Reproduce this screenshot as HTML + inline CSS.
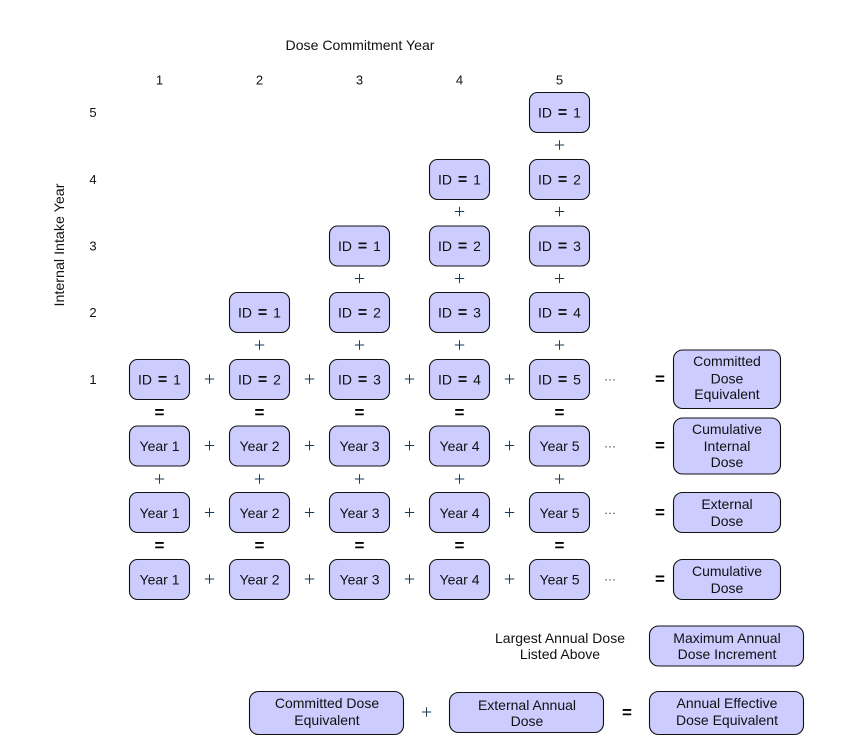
<!DOCTYPE html>
<html><head><meta charset="utf-8"><style>
html,body{margin:0;padding:0;background:#fff}
svg{display:block}
text{font-family:"Liberation Sans",sans-serif;font-size:14px;text-anchor:middle;fill:#111}
.b rect{fill:#ccccff;stroke:#111;stroke-width:1.1}
.s{font-size:13px}
.p{font-family:"Liberation Serif",serif;font-size:20px;fill:#1a3a55;transform:translateY(1px)}
.e{font-size:17px;font-weight:bold;fill:#000}
.d{font-size:12px;fill:#0f3f5f}
.i{word-spacing:2px}
.i tspan{font-weight:bold;font-size:16px}
</style></head><body>
<svg width="851" height="741" viewBox="0 0 851 741" xmlns="http://www.w3.org/2000/svg">
<g class="b">
<rect x="529.5" y="92.5" width="60" height="40" rx="8"/>
<rect x="429.5" y="159.5" width="60" height="40" rx="8"/><rect x="529.5" y="159.5" width="60" height="40" rx="8"/>
<rect x="329.5" y="226" width="60" height="40" rx="8"/><rect x="429.5" y="226" width="60" height="40" rx="8"/><rect x="529.5" y="226" width="60" height="40" rx="8"/>
<rect x="229.5" y="292.5" width="60" height="40" rx="8"/><rect x="329.5" y="292.5" width="60" height="40" rx="8"/><rect x="429.5" y="292.5" width="60" height="40" rx="8"/><rect x="529.5" y="292.5" width="60" height="40" rx="8"/>
<rect x="129.5" y="359.5" width="60" height="40" rx="8"/><rect x="229.5" y="359.5" width="60" height="40" rx="8"/><rect x="329.5" y="359.5" width="60" height="40" rx="8"/><rect x="429.5" y="359.5" width="60" height="40" rx="8"/><rect x="529.5" y="359.5" width="60" height="40" rx="8"/>
<rect x="129.5" y="426" width="60" height="40" rx="8"/><rect x="229.5" y="426" width="60" height="40" rx="8"/><rect x="329.5" y="426" width="60" height="40" rx="8"/><rect x="429.5" y="426" width="60" height="40" rx="8"/><rect x="529.5" y="426" width="60" height="40" rx="8"/>
<rect x="129.5" y="492.5" width="60" height="40" rx="8"/><rect x="229.5" y="492.5" width="60" height="40" rx="8"/><rect x="329.5" y="492.5" width="60" height="40" rx="8"/><rect x="429.5" y="492.5" width="60" height="40" rx="8"/><rect x="529.5" y="492.5" width="60" height="40" rx="8"/>
<rect x="129.5" y="559.5" width="60" height="40" rx="8"/><rect x="229.5" y="559.5" width="60" height="40" rx="8"/><rect x="329.5" y="559.5" width="60" height="40" rx="8"/><rect x="429.5" y="559.5" width="60" height="40" rx="8"/><rect x="529.5" y="559.5" width="60" height="40" rx="8"/>
<rect x="673.5" y="350" width="107" height="58.5" rx="9"/>
<rect x="673.5" y="418" width="107" height="56" rx="9"/>
<rect x="673.5" y="492.5" width="107" height="40" rx="9"/>
<rect x="673.5" y="559.5" width="107" height="40" rx="9"/>
<rect x="649.5" y="626" width="154" height="40" rx="9"/>
<rect x="249.5" y="691.5" width="154" height="43" rx="9"/>
<rect x="449.5" y="692.5" width="154" height="40" rx="9"/>
<rect x="649.5" y="691.5" width="154" height="43" rx="9"/>
</g>

<text x="360" y="50" textLength="149" lengthAdjust="spacingAndGlyphs">Dose Commitment Year</text>
<text x="159.5" y="84.5" class="s">1</text><text x="259.5" y="84.5" class="s">2</text><text x="359.5" y="84.5" class="s">3</text><text x="459.5" y="84.5" class="s">4</text><text x="559.5" y="84.5" class="s">5</text>
<text x="93" y="117" class="s">5</text><text x="93" y="184" class="s">4</text><text x="93" y="250.5" class="s">3</text><text x="93" y="317" class="s">2</text><text x="93" y="384" class="s">1</text>
<text transform="translate(64,245) rotate(-90)" textLength="123" lengthAdjust="spacingAndGlyphs">Internal Intake Year</text>

<text class="i" x="559.5" y="117.5">ID <tspan>=</tspan> 1</text>
<text class="i" x="459.5" y="184.5">ID <tspan>=</tspan> 1</text><text class="i" x="559.5" y="184.5">ID <tspan>=</tspan> 2</text>
<text class="i" x="359.5" y="251">ID <tspan>=</tspan> 1</text><text class="i" x="459.5" y="251">ID <tspan>=</tspan> 2</text><text class="i" x="559.5" y="251">ID <tspan>=</tspan> 3</text>
<text class="i" x="259.5" y="317.5">ID <tspan>=</tspan> 1</text><text class="i" x="359.5" y="317.5">ID <tspan>=</tspan> 2</text><text class="i" x="459.5" y="317.5">ID <tspan>=</tspan> 3</text><text class="i" x="559.5" y="317.5">ID <tspan>=</tspan> 4</text>
<text class="i" x="159.5" y="384.5">ID <tspan>=</tspan> 1</text><text class="i" x="259.5" y="384.5">ID <tspan>=</tspan> 2</text><text class="i" x="359.5" y="384.5">ID <tspan>=</tspan> 3</text><text class="i" x="459.5" y="384.5">ID <tspan>=</tspan> 4</text><text class="i" x="559.5" y="384.5">ID <tspan>=</tspan> 5</text>
<text x="159.5" y="451">Year 1</text><text x="259.5" y="451">Year 2</text><text x="359.5" y="451">Year 3</text><text x="459.5" y="451">Year 4</text><text x="559.5" y="451">Year 5</text>
<text x="159.5" y="518">Year 1</text><text x="259.5" y="518">Year 2</text><text x="359.5" y="518">Year 3</text><text x="459.5" y="518">Year 4</text><text x="559.5" y="518">Year 5</text>
<text x="159.5" y="584.5">Year 1</text><text x="259.5" y="584.5">Year 2</text><text x="359.5" y="584.5">Year 3</text><text x="459.5" y="584.5">Year 4</text><text x="559.5" y="584.5">Year 5</text>

<text x="727" y="366">Committed</text><text x="727" y="383.5">Dose</text><text x="727" y="399">Equivalent</text>
<text x="727" y="434">Cumulative</text><text x="727" y="451">Internal</text><text x="727" y="467">Dose</text>
<text x="727" y="509">External</text><text x="727" y="526">Dose</text>
<text x="727" y="576">Cumulative</text><text x="727" y="593">Dose</text>
<text x="560" y="643">Largest Annual Dose</text><text x="560" y="659">Listed Above</text>
<text x="727" y="643">Maximum Annual</text><text x="727" y="659">Dose Increment</text>
<text x="327" y="708">Committed Dose</text><text x="327" y="725">Equivalent</text>
<text x="527" y="710">External Annual</text><text x="527" y="726">Dose</text>
<text x="727" y="708">Annual Effective</text><text x="727" y="725">Dose Equivalent</text>

<text x="559.5" y="150.5" class="p">+</text>
<text x="459.5" y="217" class="p">+</text><text x="559.5" y="217" class="p">+</text>
<text x="359.5" y="284" class="p">+</text><text x="459.5" y="284" class="p">+</text><text x="559.5" y="284" class="p">+</text>
<text x="259.5" y="350.5" class="p">+</text><text x="359.5" y="350.5" class="p">+</text><text x="459.5" y="350.5" class="p">+</text><text x="559.5" y="350.5" class="p">+</text>
<text x="159.5" y="484.5" class="p">+</text><text x="259.5" y="484.5" class="p">+</text><text x="359.5" y="484.5" class="p">+</text><text x="459.5" y="484.5" class="p">+</text><text x="559.5" y="484.5" class="p">+</text>
<text x="209.5" y="384.5" class="p">+</text><text x="309.5" y="384.5" class="p">+</text><text x="409.5" y="384.5" class="p">+</text><text x="509.5" y="384.5" class="p">+</text>
<text x="209.5" y="451" class="p">+</text><text x="309.5" y="451" class="p">+</text><text x="409.5" y="451" class="p">+</text><text x="509.5" y="451" class="p">+</text>
<text x="209.5" y="518" class="p">+</text><text x="309.5" y="518" class="p">+</text><text x="409.5" y="518" class="p">+</text><text x="509.5" y="518" class="p">+</text>
<text x="209.5" y="584.5" class="p">+</text><text x="309.5" y="584.5" class="p">+</text><text x="409.5" y="584.5" class="p">+</text><text x="509.5" y="584.5" class="p">+</text>
<text x="426.5" y="717.5" class="p">+</text>

<text x="159.5" y="418" class="e">=</text><text x="259.5" y="418" class="e">=</text><text x="359.5" y="418" class="e">=</text><text x="459.5" y="418" class="e">=</text><text x="559.5" y="418" class="e">=</text>
<text x="159.5" y="551" class="e">=</text><text x="259.5" y="551" class="e">=</text><text x="359.5" y="551" class="e">=</text><text x="459.5" y="551" class="e">=</text><text x="559.5" y="551" class="e">=</text>
<text x="660" y="384.5" class="e">=</text><text x="660" y="451" class="e">=</text><text x="660" y="518" class="e">=</text><text x="660" y="584.5" class="e">=</text>
<text x="627" y="718" class="e">=</text>

<text x="610" y="383" class="d">···</text><text x="610" y="450" class="d">···</text><text x="610" y="516.5" class="d">···</text><text x="610" y="583" class="d">···</text>
</svg>
</body></html>
